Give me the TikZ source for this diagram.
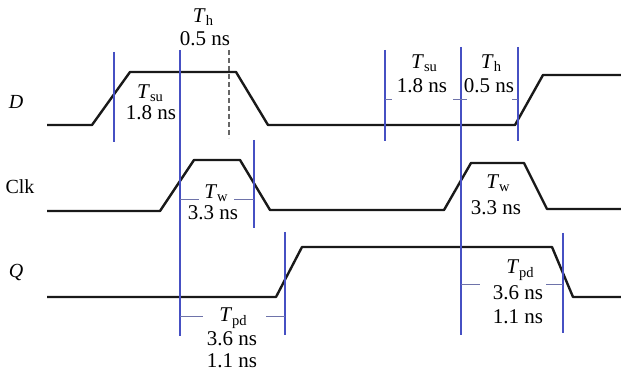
\documentclass[tikz,border=0pt]{standalone}
\usepackage{fontspec}
\setmainfont{Liberation Serif}
\definecolor{mark}{RGB}{70,80,195}
\definecolor{tickc}{RGB}{110,115,170}
\begin{document}
\begin{tikzpicture}[x=1pt,y=-1pt,
  wave/.style={line width=2.4pt,line join=round,black!90},
  mk/.style={draw=mark,line width=1.2pt},
  tk/.style={draw=tickc,line width=1pt},
  lbl/.style={inner sep=0pt,font=\fontsize{21}{23}\selectfont},
  sig/.style={inner sep=0pt,font=\fontsize{20}{22}\selectfont}]
\newcommand{\Tsub}[1]{\textit{T}\raisebox{-0.35ex}{\fontsize{14.5}{14.5}\selectfont #1}}
\useasboundingbox (0,0) rectangle (621,374);
% waveforms
\draw[wave] (47,125) -- (92,125) -- (130,72) -- (236,72) -- (268,125) -- (515,125) -- (543,75) -- (621,75);
\draw[wave] (47,211) -- (160,211) -- (194,160) -- (240,160) -- (270,210) -- (444,210) -- (471,163) -- (524,163) -- (547,209) -- (621,209);
\draw[wave] (47,297) -- (276,297) -- (302,247) -- (552,247) -- (573,297) -- (621,297);
% marker lines
\coordinate (m1a) at (114,52);  \coordinate (m1b) at (114,142);
\coordinate (m2a) at (180,50);  \coordinate (m2b) at (180,336);
\coordinate (m3a) at (229,50);  \coordinate (m3b) at (229,138);
\coordinate (m4a) at (254,140); \coordinate (m4b) at (254,228);
\coordinate (m5a) at (285,232); \coordinate (m5b) at (285,335);
\coordinate (m6a) at (385,50);  \coordinate (m6b) at (385,141);
\coordinate (m7a) at (461,47);  \coordinate (m7b) at (461,335);
\coordinate (m8a) at (518,47);  \coordinate (m8b) at (518,141);
\coordinate (m9a) at (563,233); \coordinate (m9b) at (563,333);
\draw[mk] (m1a) -- (m1b);
\draw[mk] (m2a) -- (m2b);
\draw[draw=black!60,line width=1.1pt,dashed,dash pattern=on 5pt off 3pt] (m3a) -- (m3b);
\draw[mk] (m4a) -- (m4b);
\draw[mk] (m5a) -- (m5b);
\draw[mk] (m6a) -- (m6b);
\draw[mk] (m7a) -- (m7b);
\draw[mk] (m8a) -- (m8b);
\draw[mk] (m9a) -- (m9b);
% dimension ticks
\draw[tk] (180,200) -- (199,200) (234,200) -- (254,200);
\draw[tk] (180,316) -- (203,316) (266,316) -- (285,316);
\draw[tk] (461,284) -- (480,284) (546,284) -- (563,284);
\draw[tk] (385,100) -- (392,100) (453,100) -- (467,100) (512,100) -- (518,100);
% signal names
\node[sig] (nD) at (16,102) {\textit{D}};
\node[sig] (nClk) at (20,187) {Clk};
\node[sig] (nQ) at (16,272) {\textit{Q}};
% labels
\node[lbl] (th1) at (203,17) {\Tsub{h}};
\node[lbl] (th1v) at (205,39) {0.5 ns};
\node[lbl] (ts1) at (150,93) {\Tsub{su}};
\node[lbl] (ts1v) at (151,113) {1.8 ns};
\node[lbl] (tw1) at (216,193) {\Tsub{w}};
\node[lbl] (tw1v) at (213,213) {3.3 ns};
\node[lbl] (tp1) at (233,318) {\Tsub{pd}};
\node[lbl] (tp1v) at (232,339) {3.6 ns};
\node[lbl] (tp1w) at (232,361) {1.1 ns};
\node[lbl] (ts2) at (424,63) {\Tsub{su}};
\node[lbl] (ts2v) at (422,86) {1.8 ns};
\node[lbl] (th2) at (491,63) {\Tsub{h}};
\node[lbl] (th2v) at (489,86) {0.5 ns};
\node[lbl] (tw2) at (498,183) {\Tsub{w}};
\node[lbl] (tw2v) at (496,208) {3.3 ns};
\node[lbl] (tp2) at (520,270) {\Tsub{pd}};
\node[lbl] (tp2v) at (518,293) {3.6 ns};
\node[lbl] (tp2w) at (518,317) {1.1 ns};
\end{tikzpicture}
\end{document}
